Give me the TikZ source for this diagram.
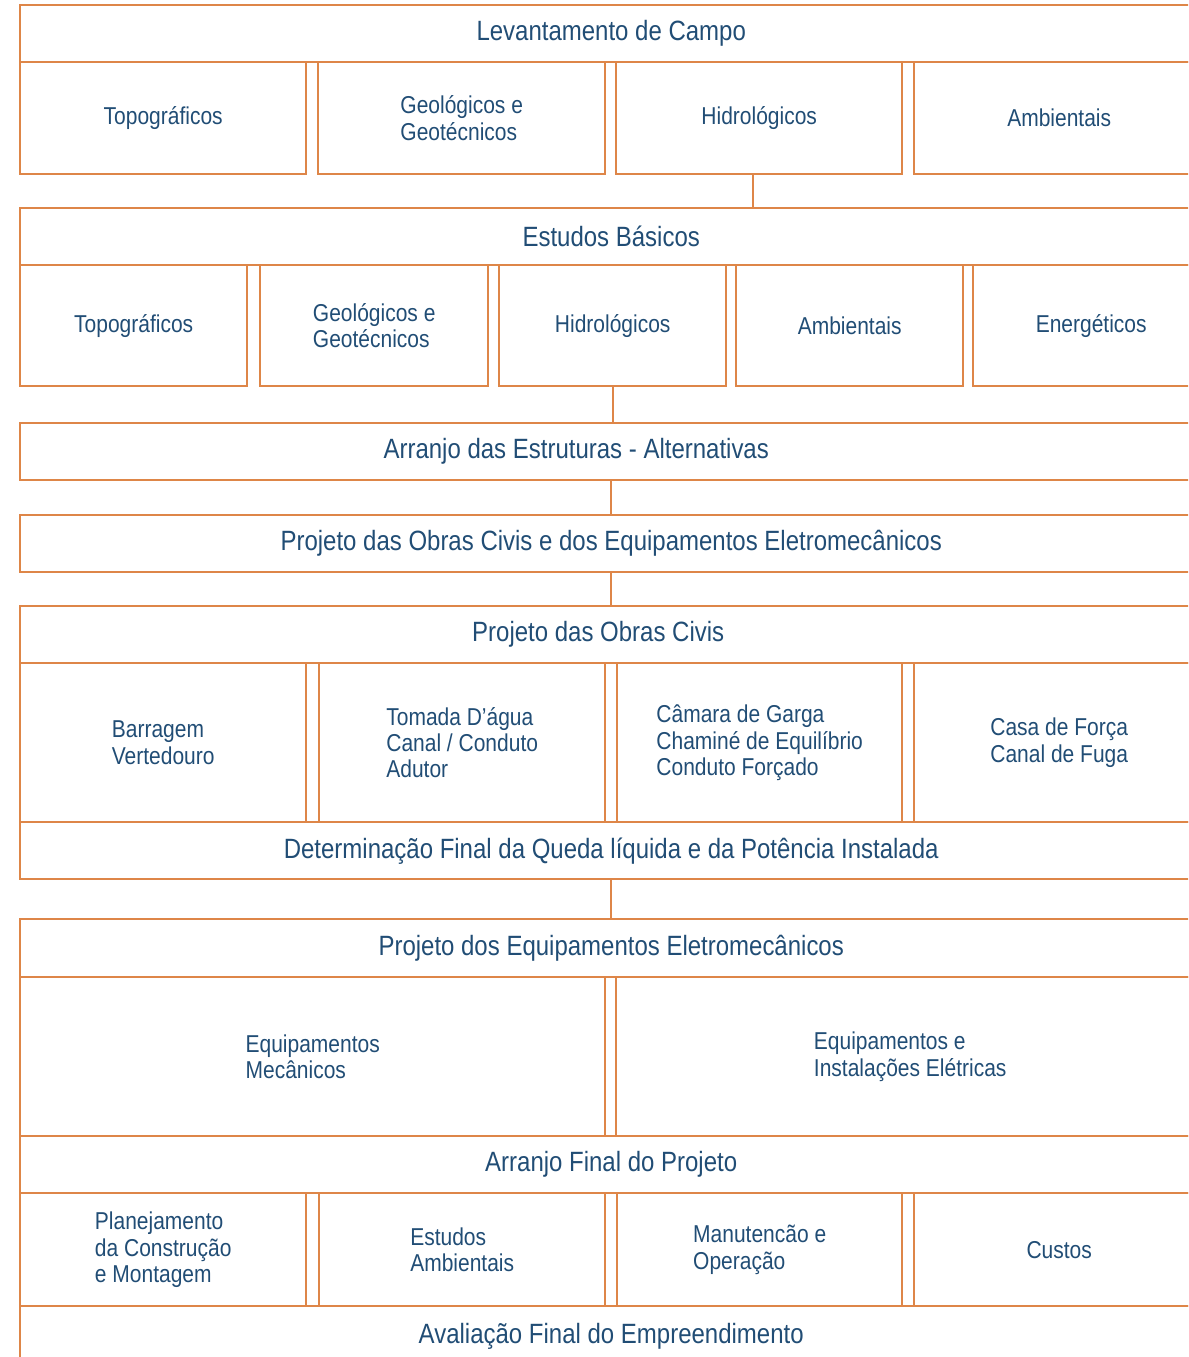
\documentclass[tikz,border=0pt]{standalone}
\usepackage{fontspec}
\setmainfont{Liberation Sans}[FakeStretch=0.86]

\definecolor{linha}{RGB}{222,134,72}
\definecolor{texto}{RGB}{33,77,117}

\tikzset{
  faixa/.style={draw=linha, line width=2.4bp, anchor=north west, inner sep=0pt,
    minimum width=1182bp, minimum height=57bp, text=texto,
    font=\fontsize{28}{30}\selectfont},
  caixa/.style={draw=linha, line width=2.4bp, anchor=north west, inner sep=0pt,
    minimum width=#1, align=left, text=texto,
    font=\fontsize{24.5}{26.5}\selectfont},
  liga/.style={draw=linha, line width=2.4bp}
}

\begin{document}
\begin{tikzpicture}[x=1bp,y=-1bp]
\clip (0,0) rectangle (1188,1357);

% levantamento de campo
\node[faixa] (lev) at (19,4) {Levantamento de Campo};
\node[caixa=286bp, minimum height=112bp] (topoA) at (19,61) {Topográficos};
\node[caixa=287bp, minimum height=112bp] (geoA) at (317,61) {Geológicos e\\Geotécnicos};
\node[caixa=286bp, minimum height=112bp] (hidA) at (615,61) {Hidrológicos};
\node[caixa=290bp, minimum height=112bp] (ambA) at (913,61) {Ambientais};

% estudos basicos
\node[faixa] (eb) at (19,207) {Estudos Básicos};
\node[caixa=227bp, minimum height=121bp] (topoB) at (19,264) {Topográficos};
\node[caixa=228bp, minimum height=121bp] (geoB) at (259,264) {Geológicos e\\Geotécnicos};
\node[caixa=227bp, minimum height=121bp] (hidB) at (498,264) {Hidrológicos};
\node[caixa=227bp, minimum height=121bp] (ambB) at (735,264) {Ambientais};
\node[caixa=236bp, minimum height=121bp] (eneB) at (972,264) {Energéticos};

\node[faixa] (arr) at (19,422) {Arranjo das Estruturas - Alternativas\hspace*{70bp}};
\node[faixa] (proj) at (19,514) {Projeto das Obras Civis e dos Equipamentos Eletromecânicos};

% obras civis
\node[faixa] (poc) at (19,605) {Projeto das Obras Civis\hspace*{26bp}};
\node[caixa=286bp, minimum height=159bp] (barr) at (19,662) {Barragem\\Vertedouro};
\node[caixa=286bp, minimum height=159bp] (tom) at (318,662) {Tomada D’água\\Canal / Conduto\\Adutor};
\node[caixa=285bp, minimum height=159bp] (cam) at (616,662) {Câmara de Garga\\Chaminé de Equilíbrio\\Conduto Forçado};
\node[caixa=290bp, minimum height=159bp] (casa) at (913,662) {Casa de Força\\Canal de Fuga};

\node[faixa] (det) at (19,821) {Determinação Final da Queda líquida e da Potência Instalada};

% equipamentos
\node[faixa, minimum height=58bp] (pe) at (19,918) {Projeto dos Equipamentos Eletromecânicos};
\node[caixa=585bp, minimum height=159bp] (mec) at (19,976) {Equipamentos\\Mecânicos};
\node[caixa=588bp, minimum height=159bp] (ele) at (615,976) {Equipamentos e\\Instalações Elétricas};

\node[faixa] (af) at (19,1135) {Arranjo Final do Projeto};
\node[caixa=286bp, minimum height=113bp] (plan) at (19,1192) {Planejamento\\da Construção\\e Montagem};
\node[caixa=286bp, minimum height=113bp] (est) at (318,1192) {Estudos\\Ambientais};
\node[caixa=285bp, minimum height=113bp] (man) at (616,1192) {Manutencão e\\Operação};
\node[caixa=290bp, minimum height=113bp] (cus) at (913,1192) {Custos};

\node[faixa, minimum height=60bp] (aval) at (19,1305) {Avaliação Final do Empreendimento};

% ligacoes
\draw[liga] ([xshift=-6bp]hidA.south) -- ([xshift=-6bp]hidA.south |- eb.north);
\draw[liga] (hidB.south) -- (hidB.south |- arr.north);
\draw[liga] (arr.south) -- (proj.north);
\draw[liga] (proj.south) -- (poc.north);
\draw[liga] (det.south) -- (pe.north);
\end{tikzpicture}
\end{document}
